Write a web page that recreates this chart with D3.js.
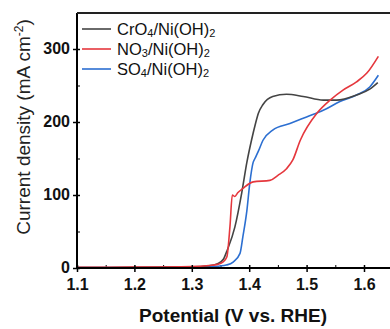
<!DOCTYPE html>
<html>
<head>
<meta charset="utf-8">
<script src="https://cdn.jsdelivr.net/npm/d3@7"></script>
<style>
  body { margin: 0; background: #fff; }
  text { font-family: "Liberation Sans", Arial, sans-serif; }
</style>
</head>
<body>
<div id="chart"></div>
<script>
// potential (V vs. RHE) and current density (mA cm-2)
var cro4_v = [1.10, 1.20, 1.30, 1.33, 1.345, 1.355, 1.362, 1.375, 1.387, 1.396, 1.404, 1.411, 1.416, 1.424, 1.441, 1.465, 1.494, 1.529, 1.552, 1.587, 1.610, 1.624];
var cro4_j = [0.5, 0.8, 1.5, 3, 6, 12, 25, 56, 103, 145, 175, 198, 212, 224, 235, 238, 235, 230, 230, 237, 245, 254];

var no3_v = [1.10, 1.20, 1.30, 1.33, 1.345, 1.354, 1.361, 1.3665, 1.3706, 1.375, 1.380, 1.389, 1.407, 1.436, 1.450, 1.465, 1.476, 1.489, 1.518, 1.541, 1.564, 1.587, 1.605, 1.625];
var no3_j = [1, 1.2, 2, 3.5, 5, 8, 15, 57, 100, 98, 103, 109, 118, 120, 127, 136, 148, 175, 212, 230, 244, 255, 267, 290];

var so4_v = [1.10, 1.20, 1.30, 1.34, 1.36, 1.372, 1.384, 1.389, 1.396, 1.401, 1.407, 1.410, 1.416, 1.424, 1.441, 1.471, 1.500, 1.529, 1.558, 1.587, 1.610, 1.625];
var so4_j = [0.5, 0.6, 1, 2, 4, 8, 20, 43, 79, 116, 145, 150, 160, 175, 189, 198, 207, 216, 228, 237, 248, 264];

var x_ticks = [1.1, 1.2, 1.3, 1.4, 1.5, 1.6];
var y_ticks = [0, 100, 200, 300];
var series_names = [["CrO", "4", "/Ni(OH)", "2"], ["NO", "3", "/Ni(OH)", "2"], ["SO", "4", "/Ni(OH)", "2"]];
var series_colors = ["#444444", "#e5373d", "#2c6fd1"];

var margin = {left: 77, right: 0, top: 13, bottom: 61};
var width = 390 - margin.left - margin.right;
var height = 329 - margin.top - margin.bottom;

var x = d3.scaleLinear().domain([1.1, 1.1 + width / 574]).range([0, width]);
var y = d3.scaleLinear().domain([0, height / 0.73]).range([height, 0]);

var svg = d3.select("#chart").append("svg")
    .attr("width", 390)
    .attr("height", 329)
  .append("g")
    .attr("transform", "translate(" + margin.left + "," + margin.top + ")");

// minor ticks (inward)
var xMinor = d3.axisBottom(x).tickValues([1.15, 1.25, 1.35, 1.45, 1.55]).tickSize(-3).tickFormat("");
svg.append("g").attr("transform", "translate(0," + height + ")").call(xMinor)
    .call(function(g) { g.select(".domain").remove(); });
var yMinor = d3.axisLeft(y).tickValues([50, 150, 250]).tickSize(-3).tickFormat("");
svg.append("g").call(yMinor)
    .call(function(g) { g.select(".domain").remove(); });

// lines
var line = d3.line()
    .x(function(d) { return x(d[0]); })
    .y(function(d) { return y(d[1]); })
    .curve(d3.curveMonotoneX);

var all_data = [
  d3.zip(cro4_v, cro4_j),
  d3.zip(no3_v, no3_j),
  d3.zip(so4_v, so4_j)
];
// draw blue, black, red order so red sits on top like the original
[2, 0, 1].forEach(function(i) {
  svg.append("path")
    .datum(all_data[i])
    .attr("fill", "none")
    .attr("stroke", series_colors[i])
    .attr("stroke-width", 1.6)
    .attr("stroke-linejoin", "round")
    .attr("d", line);
});

// major axes
var xAxis = d3.axisBottom(x).tickValues(x_ticks).tickSize(4).tickPadding(7).tickFormat(d3.format(".1f"));
var gx = svg.append("g").attr("transform", "translate(0," + height + ")").call(xAxis);
gx.select(".domain").attr("d", "M0,0H" + width).attr("stroke", "#000").attr("stroke-width", 2);
gx.selectAll(".tick line").attr("y1", -3).attr("stroke-width", 1.5);
gx.selectAll(".tick text").style("font-size", "16px").style("font-weight", "bold").attr("fill", "#111");

var yAxis = d3.axisLeft(y).tickValues(y_ticks).tickSize(4).tickPadding(3);
var gy = svg.append("g").call(yAxis);
gy.select(".domain").attr("d", "M0," + height + "V0").attr("stroke", "#000").attr("stroke-width", 2);
gy.selectAll(".tick line").attr("x1", 3).attr("stroke-width", 1.5);
gy.selectAll(".tick text").style("font-size", "16px").style("font-weight", "bold")
    .attr("dy", "0.28em").attr("fill", "#111");

// top border
svg.append("line")
    .attr("x1", 0).attr("x2", width)
    .attr("y1", 0).attr("y2", 0)
    .attr("stroke", "#222").attr("stroke-width", 2);

// axis labels
svg.append("text")
    .attr("x", 233 - margin.left)
    .attr("y", height + 54)
    .style("text-anchor", "middle")
    .style("font-size", "19px")
    .style("font-weight", "bold")
    .attr("fill", "#111")
    .text("Potential (V vs. RHE)");

var ylab = svg.append("text")
    .attr("transform", "translate(" + (-47) + "," + (127 - margin.top) + ") rotate(-90)")
    .style("text-anchor", "middle")
    .style("font-size", "19px")
    .attr("fill", "#222");
ylab.append("tspan").text("Current density (mA cm");
ylab.append("tspan").attr("dy", -7).style("font-size", "12px").text("-2");
ylab.append("tspan").attr("dy", 7).text(")");

// legend
series_names.forEach(function(n, i) {
  var ly = 16 + i * 20;
  svg.append("line")
    .attr("x1", 5).attr("x2", 34)
    .attr("y1", ly).attr("y2", ly)
    .attr("stroke", series_colors[i]).attr("stroke-width", 1.6);
  var t = svg.append("text")
    .attr("x", 40).attr("y", ly + 6)
    .style("font-size", "16.5px")
    .attr("fill", "#111");
  t.append("tspan").text(n[0]);
  t.append("tspan").attr("dy", 2).style("font-size", "11px").text(n[1]);
  t.append("tspan").attr("dy", -2).text(n[2]);
  t.append("tspan").attr("dy", 2).style("font-size", "11px").text(n[3]);
});
</script>
</body>
</html>
